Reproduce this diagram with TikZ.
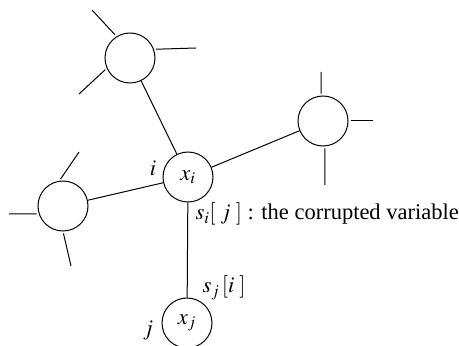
\documentclass[tikz,border=0pt]{standalone}
\usepackage{mathptmx}
\usepackage{fontspec}
\setmainfont{Liberation Serif}

\begin{document}
\begin{tikzpicture}[x=1pt,y=1pt,line width=1pt,
  every node/.style={font=\fontsize{22.5}{26}\selectfont},
  var/.style={circle,draw,minimum size=50pt,inner sep=0pt}]
  \useasboundingbox (0,0) rectangle (459,346);
  \node[var] (ci) at (188,169) {$x_i$};
  \node[var] (cj) at (187,23) {$x_j$};
  \node[var] (ctop) at (130,288) {};
  \node[var] (cleft) at (63,140) {};
  \node[var] (cright) at (323,225) {};
  \foreach \n in {ctop,cleft,cright,cj} \draw (\n) -- (ci);
  % loose ends
  \foreach \n/\a/\x/\y in {ctop/122/92/336, ctop/20/196/298, ctop/204/79/252,
      cleft/98/79/194, cleft/198/9/132, cleft/270/71/80,
      cright/94/321/274, cright/0/373/225, cright/274/325/161}
    \draw[shorten <=2pt] (\n.\a) -- (\x,\y);
  \node (li) at (153,178) {$i$};
  \node (lj) at (148,15) {$j$};
  \node[anchor=base west,inner sep=0pt] (si) at (195,126) {$s_i[\;j\;]$ : the corrupted variable};
  \node[anchor=base west,inner sep=0pt] (sj) at (202,53) {$s_j\,[i\;]$};
\end{tikzpicture}
\end{document}
